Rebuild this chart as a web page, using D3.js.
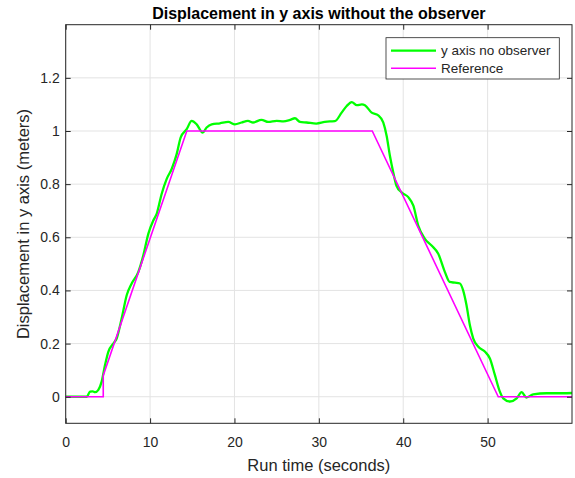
<!DOCTYPE html>
<html>
<head>
<meta charset="utf-8">
<script src="https://cdn.jsdelivr.net/npm/d3@7"></script>
<style>
  body { margin: 0; background: #fff; }
  text { font-family: "Liberation Sans", Arial, Helvetica, sans-serif; fill: #262626; }
</style>
</head>
<body>
<svg id="chart" width="575" height="478"></svg>
<script>
const xTicks = [0, 10, 20, 30, 40, 50];
const yTicks = [0, 0.2, 0.4, 0.6, 0.8, 1, 1.2];
const yTickLabels = ['0', '0.2', '0.4', '0.6', '0.8', '1', '1.2'];

// measured response (green)
const timeObserved = [
  0, 1.0, 2.5, 2.88, 3.2, 3.47, 3.87, 4.26, 4.66, 5.05, 5.64, 6.04, 6.63, 7.23, 7.82, 8.6,
  9.2, 9.79, 10.38, 10.78, 11.37, 11.96, 12.56, 13.15, 13.63, 14.34, 14.93, 15.52, 16.23,
  16.7, 17.3, 18.28, 19.27, 20.06, 20.85, 21.6, 22.2, 23.2, 24.0, 25.0, 25.8, 26.6, 27.17,
  27.76, 28.55, 29.7, 30.7, 31.3, 31.9, 32.7, 33.3, 33.9, 34.5, 35.1, 35.46, 36.26, 37.04,
  37.63, 38.03, 38.42, 38.82, 39.2, 39.8, 40.6, 41.2, 41.78, 42.57, 43.36, 44.15, 44.94,
  45.5, 46.13, 46.72, 47.1, 47.5, 47.9, 48.3, 48.9, 49.7, 50.27, 50.86, 51.45, 51.85,
  52.64, 53.44, 54.03, 54.6, 55.4, 57.0, 58.96, 60
];
const yObserved = [
  0, 0, 0, 0.019, 0.02, 0.017, 0.026, 0.057, 0.119, 0.169, 0.2, 0.219, 0.294, 0.382, 0.426, 0.469,
  0.532, 0.613, 0.663, 0.688, 0.763, 0.819, 0.857, 0.913, 0.976, 1.007, 1.038, 1.025, 0.994,
  1.013, 1.025, 1.029, 1.034, 1.025, 1.032, 1.038, 1.032, 1.042, 1.034, 1.038, 1.036, 1.042, 1.048,
  1.034, 1.032, 1.028, 1.034, 1.036, 1.037, 1.069, 1.094, 1.109, 1.097, 1.1, 1.097, 1.069, 1.059,
  1.032, 0.982, 0.907, 0.844, 0.794, 0.769, 0.751, 0.719, 0.644, 0.594, 0.569, 0.538, 0.469,
  0.432, 0.429, 0.426, 0.4, 0.344, 0.269, 0.219, 0.188, 0.169, 0.144, 0.082, 0.019, -0.006,
  -0.018, -0.006, 0.017, -0.003, 0.009, 0.013, 0.013, 0.014
];

// reference trajectory (magenta)
const timeReference = [0, 4.45, 4.45, 14.35, 36.33, 51.26, 60];
const yReference = [0, 0, 0.08, 1, 1, 0, 0];

const legendLabels = ['y axis no observer', 'Reference'];
const seriesColors = ['#00ff00', '#ff00ff'];

const svg = d3.select('#chart');
const plotLeft = 65.7, plotRight = 572, plotTop = 24.7, plotBottom = 423.3;

const x = d3.scaleLinear().domain([0, 60]).range([plotLeft, plotRight]);
const y = d3.scaleLinear().domain([-0.1, 1.4]).range([plotBottom, plotTop]);

svg.append('defs').append('clipPath').attr('id', 'plotclip')
    .append('rect')
    .attr('x', plotLeft).attr('y', plotTop)
    .attr('width', plotRight - plotLeft).attr('height', plotBottom - plotTop);

// grid
const grid = svg.append('g');
grid.selectAll('.gx').data(xTicks).enter().append('line')
    .attr('x1', d => x(d)).attr('x2', d => x(d))
    .attr('y1', plotTop).attr('y2', plotBottom)
    .attr('stroke', '#e3e3e3').attr('stroke-width', 1);
grid.selectAll('.gy').data(yTicks).enter().append('line')
    .attr('x1', plotLeft).attr('x2', plotRight)
    .attr('y1', d => y(d)).attr('y2', d => y(d))
    .attr('stroke', '#e3e3e3').attr('stroke-width', 1);

// series
const observed = timeObserved.map((t, i) => [t, yObserved[i]]);
const reference = timeReference.map((t, i) => [t, yReference[i]]);

const line = d3.line().x(d => x(d[0])).y(d => y(d[1]));
const smooth = d3.line().x(d => x(d[0])).y(d => y(d[1])).curve(d3.curveMonotoneX);

const plot = svg.append('g').attr('clip-path', 'url(#plotclip)');
plot.append('path').datum(observed)
    .attr('d', smooth)
    .attr('fill', 'none').attr('stroke', seriesColors[0])
    .attr('stroke-width', 2.3).attr('stroke-linejoin', 'round');
plot.append('path').datum(reference)
    .attr('d', line)
    .attr('fill', 'none').attr('stroke', seriesColors[1])
    .attr('stroke-width', 1.6);

// axes
const styleAxis = g => {
    g.attr('font-family', null);
    g.select('.domain').remove();
    g.selectAll('.tick line').attr('stroke', '#262626').attr('stroke-width', 1);
    g.selectAll('.tick text').style('font-size', '14px').attr('fill', '#262626');
};

svg.append('g').attr('transform', `translate(0,${plotBottom})`)
    .call(d3.axisBottom(x).tickValues(xTicks).tickSize(-5).tickPadding(14).tickFormat(d3.format('d')))
    .call(styleAxis);
svg.append('g').attr('transform', `translate(0,${plotTop})`)
    .call(d3.axisTop(x).tickValues(xTicks).tickSize(-5).tickFormat(''))
    .call(styleAxis);
svg.append('g').attr('transform', `translate(${plotLeft},0)`)
    .call(d3.axisLeft(y).tickValues(yTicks).tickSize(-5).tickPadding(6).tickFormat((d, i) => yTickLabels[i]))
    .call(styleAxis);
svg.append('g').attr('transform', `translate(${plotRight},0)`)
    .call(d3.axisRight(y).tickValues(yTicks).tickSize(-5).tickFormat(''))
    .call(styleAxis);

svg.append('rect')
    .attr('x', plotLeft).attr('y', plotTop)
    .attr('width', plotRight - plotLeft).attr('height', plotBottom - plotTop)
    .attr('fill', 'none').attr('stroke', '#262626').attr('stroke-width', 1);

// labels
svg.append('text')
    .attr('x', (plotLeft + plotRight) / 2).attr('y', 19)
    .attr('text-anchor', 'middle')
    .style('font-size', '16px').style('font-weight', 'bold').style('fill', '#000')
    .text('Displacement in y axis without the observer');

svg.append('text')
    .attr('x', (plotLeft + plotRight) / 2).attr('y', 470.5)
    .attr('text-anchor', 'middle')
    .style('font-size', '16.5px')
    .text('Run time (seconds)');

svg.append('text')
    .attr('transform', `translate(29.3,${(plotTop + plotBottom) / 2}) rotate(-90)`)
    .attr('text-anchor', 'middle')
    .style('font-size', '16.5px')
    .text('Displacement in y axis (meters)');

// legend
const legend = svg.append('g');
legend.append('rect')
    .attr('x', 386).attr('y', 37.7).attr('width', 173.3).attr('height', 41.3)
    .attr('fill', '#fff').attr('stroke', '#262626').attr('stroke-width', 0.8);
const rows = legend.selectAll('.row').data(legendLabels).enter().append('g')
    .attr('transform', (d, i) => `translate(0,${50.7 + i * 17.6})`);
rows.append('line')
    .attr('x1', 391).attr('x2', 436).attr('y1', 0).attr('y2', 0)
    .attr('stroke', (d, i) => seriesColors[i])
    .attr('stroke-width', (d, i) => i === 0 ? 2.3 : 1.6);
rows.append('text')
    .attr('x', 441).attr('y', 0).attr('dy', '0.35em')
    .style('font-size', '13.5px')
    .text(d => d);
</script>
</body>
</html>
